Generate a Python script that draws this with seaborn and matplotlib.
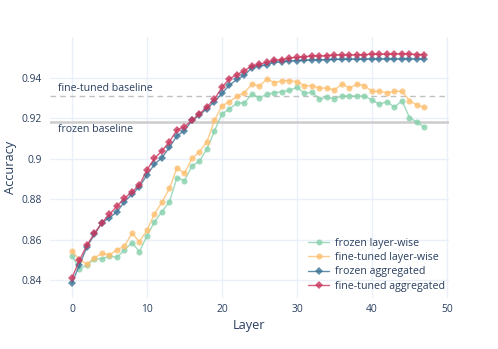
import numpy as np
import pandas as pd
import matplotlib
matplotlib.use("Agg")
import matplotlib.pyplot as plt
import seaborn as sns

# accuracy per layer
layers = list(range(48))

frozen_layerwise = [
    0.852, 0.8455, 0.8474, 0.8505, 0.8505, 0.8519, 0.8512, 0.8549, 0.8585, 0.854,
    0.8619, 0.8688, 0.8738, 0.8788, 0.8907, 0.8892, 0.8964, 0.8989, 0.9049, 0.9138,
    0.9222, 0.9247, 0.9275, 0.9278, 0.9319, 0.9303, 0.9319, 0.9327, 0.9332, 0.9339,
    0.9354, 0.9324, 0.933, 0.9296, 0.9304, 0.9298, 0.9311, 0.9311, 0.9311, 0.9311,
    0.9291, 0.927, 0.9283, 0.9255, 0.9288, 0.9204, 0.9181, 0.9156,
]
finetuned_layerwise = [
    0.8545, 0.8499, 0.8479, 0.851, 0.8532, 0.8524, 0.8549, 0.8568, 0.8631, 0.859,
    0.8646, 0.8728, 0.8785, 0.8854, 0.8956, 0.8928, 0.9002, 0.9035, 0.9085, 0.9191,
    0.9262, 0.9283, 0.9309, 0.9328, 0.937, 0.936, 0.9395, 0.9377, 0.9387, 0.9387,
    0.9382, 0.9362, 0.9362, 0.935, 0.935, 0.9341, 0.937, 0.935, 0.937, 0.9362,
    0.9334, 0.9334, 0.9327, 0.9334, 0.9334, 0.9288, 0.9265, 0.9255,
]
frozen_aggregated = [
    0.8385, 0.8474, 0.8565, 0.8626, 0.8684, 0.8708, 0.8737, 0.8788, 0.8824, 0.8862,
    0.892, 0.8973, 0.9006, 0.9057, 0.9114, 0.9139, 0.919, 0.9217, 0.9248, 0.9283,
    0.9324, 0.9365, 0.9393, 0.9414, 0.9451, 0.9459, 0.9466, 0.9478, 0.9481, 0.9484,
    0.9486, 0.9487, 0.9489, 0.949, 0.9491, 0.9492, 0.9492, 0.9493, 0.9493, 0.9493,
    0.9494, 0.9494, 0.9494, 0.9494, 0.9494, 0.9494, 0.9494, 0.9494,
]
finetuned_aggregated = [
    0.841, 0.8499, 0.8573, 0.8631, 0.8684, 0.8725, 0.8766, 0.8804, 0.8837, 0.887,
    0.8945, 0.9002, 0.9039, 0.9085, 0.9143, 0.9159, 0.919, 0.9222, 0.9258, 0.9295,
    0.9354, 0.9397, 0.9417, 0.9436, 0.9461, 0.9468, 0.9478, 0.9488, 0.9491, 0.9499,
    0.9502, 0.9505, 0.951, 0.9509, 0.9511, 0.9514, 0.9514, 0.9514, 0.9515, 0.9515,
    0.9519, 0.9518, 0.9518, 0.9519, 0.952, 0.9519, 0.9516, 0.9516,
]

frozen_baseline = 0.9183
finetuned_baseline = 0.9311

series_names = ["frozen layer-wise", "fine-tuned layer-wise",
                "frozen aggregated", "fine-tuned aggregated"]
colors = ["#88d1ad", "#fdbf6f", "#3a7396", "#c9365c"]
marks = ["o", "o", "D", "D"]

df = pd.DataFrame({
    "Layer": layers * 4,
    "Accuracy": frozen_layerwise + finetuned_layerwise + frozen_aggregated + finetuned_aggregated,
    "series": sum([[n] * len(layers) for n in series_names], []),
})

sns.set_style("white")
plt.rcParams["font.family"] = ["Open Sans", "DejaVu Sans"]
txt = "#2a3f5f"

fig = plt.figure(figsize=(4.98, 3.49), dpi=100)
ax = fig.add_axes([0.1004, 0.1461, 0.8012, 0.7479])

# baselines
ax.axhline(frozen_baseline, color="#cccccc", lw=1.8, zorder=1)
ax.axhline(finetuned_baseline, color="#c0c0c0", lw=1.0, ls=(0, (4, 3)), zorder=1)
ax.text(-1.9, finetuned_baseline + 0.0008, "fine-tuned baseline", color=txt,
        fontsize=7.6, va="bottom", ha="left")
ax.text(-1.9, frozen_baseline - 0.0012, "frozen baseline", color=txt,
        fontsize=7.6, va="top", ha="left")

for name, c, m in zip(series_names, colors, marks):
    sub = df[df["series"] == name]
    sns.lineplot(data=sub, x="Layer", y="Accuracy", ax=ax, color=c, lw=1.0,
                 marker=m, markersize=4.4 if m == "o" else 3.8,
                 markeredgewidth=0, alpha=0.8, label=name, zorder=3)

ax.set_xlim(-2.93, 50.27)
ax.set_ylim(0.8311, 0.9603)
ax.set_xticks([0, 10, 20, 30, 40, 50])
ax.set_yticks([0.84, 0.86, 0.88, 0.9, 0.92, 0.94])
ax.set_yticklabels([f"{v:g}" for v in ax.get_yticks()])
ax.grid(True, color="#ebf0f8", lw=1.0, zorder=0)
ax.set_axisbelow(True)
for s in ax.spines.values():
    s.set_visible(False)
ax.tick_params(axis="y", length=0, labelsize=7.4, labelcolor=txt, pad=6)
ax.tick_params(axis="x", length=0, labelsize=7.4, labelcolor=txt, pad=4)
ax.set_xlabel("Layer", fontsize=9.2, color=txt, labelpad=3)
ax.set_ylabel("Accuracy", fontsize=9.2, color=txt, labelpad=3)

leg = ax.legend(loc="lower right", frameon=False, fontsize=7.7,
                labelcolor=txt, handlelength=2.0, handletextpad=0.5,
                borderaxespad=0.3, labelspacing=0.32,
                bbox_to_anchor=(1.008, -0.005))
for h in leg.legend_handles:
    h.set_alpha(0.8)

fig.savefig("out.png", dpi=100, facecolor="white")
